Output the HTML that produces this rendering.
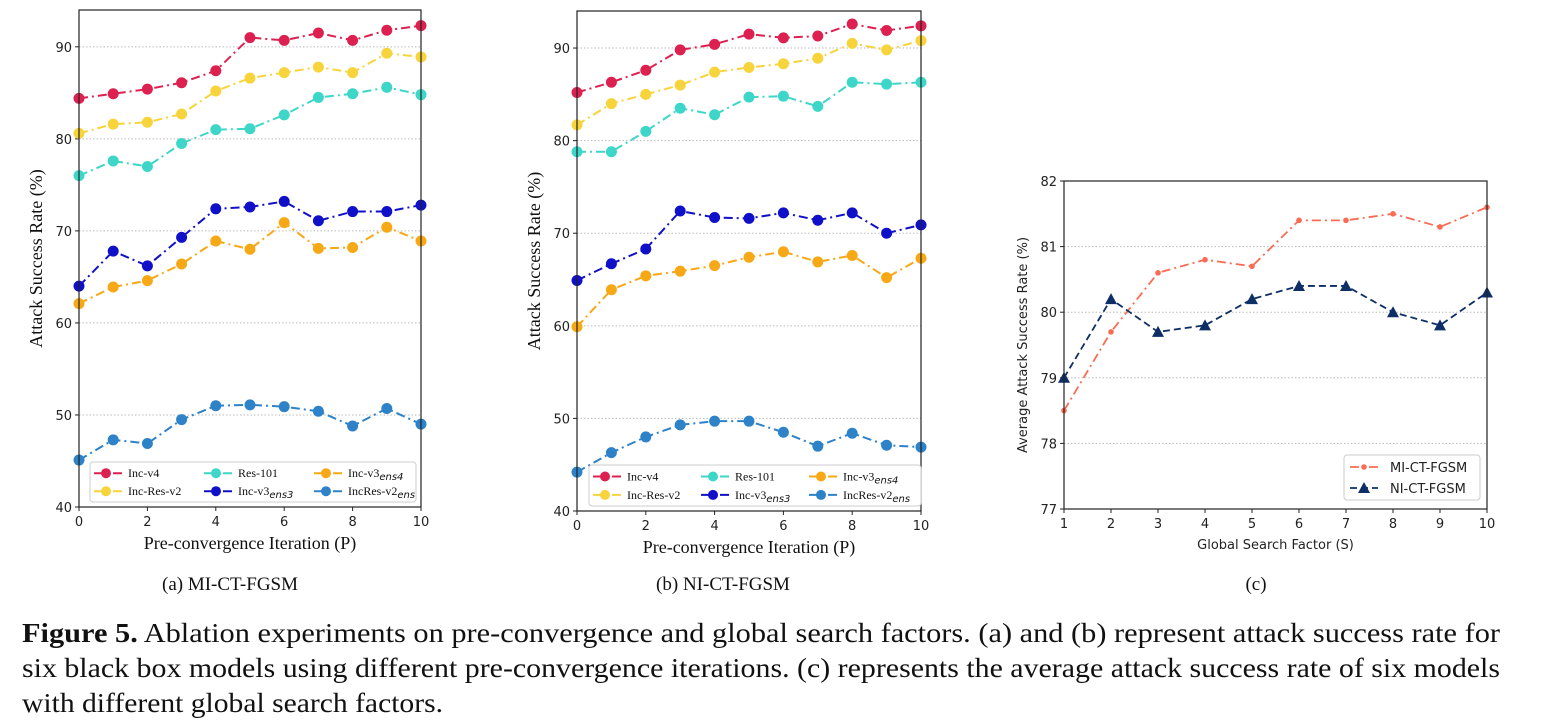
<!DOCTYPE html>
<html><head><meta charset="utf-8">
<style>
html,body{margin:0;padding:0;background:#fff;}
svg{display:block;}
.tk{font-family:"DejaVu Sans","Liberation Sans",sans-serif;font-size:13px;fill:#222;}
.sf{font-family:"Liberation Serif",serif;fill:#111;}
</style></head>
<body>
<svg id="fig" width="1545" height="724" viewBox="0 0 1545 724" xmlns="http://www.w3.org/2000/svg">
<text class="sf" x="230" y="590" font-size="19" text-anchor="middle">(a) MI-CT-FGSM</text>
<text class="sf" x="723" y="590" font-size="19" text-anchor="middle">(b) NI-CT-FGSM</text>
<text class="sf" x="1256" y="590" font-size="19" text-anchor="middle">(c)</text>
<text class="sf" x="22" y="642" font-size="27" textLength="1478" lengthAdjust="spacingAndGlyphs"><tspan font-weight="bold">Figure 5.</tspan> Ablation experiments on pre-convergence and global search factors. (a) and (b) represent attack success rate for</text>
<text class="sf" x="22" y="677" font-size="27" textLength="1478" lengthAdjust="spacingAndGlyphs">six black box models using different pre-convergence iterations. (c) represents the average attack success rate of six models</text>
<text class="sf" x="22" y="712" font-size="27" textLength="421" lengthAdjust="spacingAndGlyphs">with different global search factors.</text>
</svg>
<script>
const iters = [0,1,2,3,4,5,6,7,8,9,10];
const seriesNames = ["Inc-v4","Inc-Res-v2","Res-101","Inc-v3ens3","Inc-v3ens4","IncRes-v2ens"];
const aIncV4 = [84.4,84.9,85.4,86.1,87.4,91.0,90.7,91.5,90.7,91.8,92.3];
const aIncResV2 = [80.6,81.6,81.8,82.7,85.2,86.6,87.2,87.8,87.2,89.3,88.9];
const aRes101 = [76.0,77.6,77.0,79.5,81.0,81.1,82.6,84.5,84.9,85.6,84.8];
const aEns3 = [64.0,67.8,66.2,69.3,72.4,72.6,73.2,71.1,72.1,72.1,72.8];
const aEns4 = [62.1,63.9,64.6,66.4,68.9,68.0,70.9,68.1,68.2,70.4,68.9];
const aIncResEns = [45.1,47.3,46.9,49.5,51.0,51.1,50.9,50.4,48.8,50.7,49.0];
const bIncV4 = [85.2,86.3,87.6,89.8,90.4,91.5,91.1,91.3,92.6,91.9,92.4];
const bIncResV2 = [81.7,84.0,85.0,86.0,87.4,87.9,88.3,88.9,90.5,89.8,90.8];
const bRes101 = [78.8,78.8,81.0,83.5,82.8,84.7,84.8,83.7,86.3,86.1,86.3];
const bEns3 = [64.9,66.7,68.3,72.4,71.7,71.6,72.2,71.4,72.2,70.0,70.9];
const bEns4 = [59.9,63.9,65.4,65.9,66.5,67.4,68.0,66.9,67.6,65.2,67.3];
const bIncResEns = [44.2,46.3,48.0,49.3,49.7,49.7,48.5,47.0,48.4,47.1,46.9];
const abTicksY = [40,50,60,70,80,90];
const abTicksX = [0,2,4,6,8,10];
const sFactors = [1,2,3,4,5,6,7,8,9,10];
const miValues = [78.5,79.7,80.6,80.8,80.7,81.4,81.4,81.5,81.3,81.6];
const niValues = [79.0,80.2,79.7,79.8,80.2,80.4,80.4,80.0,79.8,80.3];
const cTicksY = [77,78,79,80,81,82];

const NS="http://www.w3.org/2000/svg";
const svg=document.getElementById('fig');
function mk(tag,attrs,parent){const e=document.createElementNS(NS,tag);for(const k in attrs)e.setAttribute(k,attrs[k]);(parent||svg).appendChild(e);return e;}
const colors=["#dc2050","#f7d43c","#3dd6c8","#1010c8","#f7a816","#2e82c8"];

function panel(id,L,R,T,B,ymin,ymax,data,leg){
  const g=mk('g',{});
  
  
  const x=v=>L+(v-0)/10*(R-L), y=v=>B-(v-ymin)/(ymax-ymin)*(B-T);
  abTicksY.forEach(t=>{
    if(t>ymin){const gl=mk('line',{x1:L,x2:R,y1:y(t),y2:y(t),stroke:'#bbb','stroke-width':1,'stroke-dasharray':'1.5,2'},g);
    }
    mk('line',{x1:L-4,x2:L,y1:y(t),y2:y(t),stroke:'#222'},g);
    const tx=mk('text',{x:L-7,y:y(t)+5,'text-anchor':'end',class:'tk'},g);tx.textContent=t;
    
  });
  abTicksX.forEach(t=>{
    mk('line',{x1:x(t),x2:x(t),y1:B,y2:B+4,stroke:'#222'},g);
    const tx=mk('text',{x:x(t),y:B+19,'text-anchor':'middle',class:'tk'},g);tx.textContent=t;
    
  });
  data.forEach((d,i)=>{
    const pl=mk('polyline',{points:iters.map((v,j)=>x(v)+','+y(d[j])).join(' '),fill:'none',stroke:colors[i],'stroke-width':2,'stroke-dasharray':'9,4,2,4'},g);
    
    
    iters.forEach((v,j)=>{const c=mk('circle',{cx:x(v),cy:y(d[j]),r:5.5,fill:colors[i]},g);
      });
  });
  const fr=mk('rect',{x:L,y:T,width:R-L,height:B-T,fill:'none',stroke:'#222','stroke-width':1.2},g);
  
  const yl=mk('text',{class:'sf','font-size':18,'text-anchor':'middle',transform:`translate(${L-37},${(T+B)/2}) rotate(-90)`},g);
  yl.textContent='Attack Success Rate (%)';
  
  const xl=mk('text',{class:'sf','font-size':18,'text-anchor':'middle',x:(L+R)/2,y:B+42},g);
  xl.textContent='Pre-convergence Iteration (P)';
  
  const lg=mk('g',{},g);
  
  mk('rect',{x:leg.x,y:leg.y,width:leg.w,height:leg.h,fill:'#fff',stroke:'#ccc',rx:3},lg);
  const order=[0,2,4,1,3,5];
  order.forEach((si,k)=>{
    const col=k%3,row=Math.floor(k/3);
    const mx=leg.x+16+col*leg.cw, my=leg.y+leg.h*0.28+row*leg.h*0.45;
    mk('line',{x1:mx-12,x2:mx+16,y1:my,y2:my,stroke:colors[si],'stroke-width':2,'stroke-dasharray':'9,4,2,4'},lg);
    mk('circle',{cx:mx,cy:my,r:5,fill:colors[si]},lg);
    const t=mk('text',{x:mx+22,y:my+4,class:'sf','font-size':12},lg);
    const n=seriesNames[si];
    if(n.endsWith('ens3')||n.endsWith('ens4')||n.endsWith('ens')){
      const m=n.match(/^(.*?)(ens\d?)$/);
      t.appendChild(document.createTextNode(m[1]));
      const ts=mk('tspan',{'font-style':'italic','font-size':10,dy:3,'font-family':'DejaVu Sans,sans-serif'},t);ts.textContent=m[2];
    } else t.textContent=n;
    
  });
}
panel('chart-a-mi-ct-fgsm',79,421,10,507,40,94.0,[aIncV4,aIncResV2,aRes101,aEns3,aEns4,aIncResEns],{x:90,y:462,w:326,h:40,cw:110});
panel('chart-b-ni-ct-fgsm',577,921,11,511,40,94.0,[bIncV4,bIncResV2,bRes101,bEns3,bEns4,bIncResEns],{x:589,y:465,w:332,h:41,cw:108});

(function(){
  const L=1064,R=1487,T=181,B=509,ymin=77,ymax=82;
  const g=mk('g',{});
  
  const x=v=>L+(v-1)/9*(R-L), y=v=>B-(v-ymin)/(ymax-ymin)*(B-T);
  cTicksY.forEach(t=>{
    if(t>ymin&&t<ymax){const gl=mk('line',{x1:L,x2:R,y1:y(t),y2:y(t),stroke:'#bbb','stroke-width':1,'stroke-dasharray':'1.5,2'},g);
      }
    mk('line',{x1:L-4,x2:L,y1:y(t),y2:y(t),stroke:'#222'},g);
    const tx=mk('text',{x:L-7,y:y(t)+5,'text-anchor':'end',class:'tk'},g);tx.textContent=t;
    
  });
  sFactors.forEach(t=>{
    mk('line',{x1:x(t),x2:x(t),y1:B,y2:B+4,stroke:'#222'},g);
    const tx=mk('text',{x:x(t),y:B+19,'text-anchor':'middle',class:'tk'},g);tx.textContent=t;
    
  });
  const mi=mk('polyline',{points:sFactors.map((v,j)=>x(v)+','+y(miValues[j])).join(' '),fill:'none',stroke:'#f96b52','stroke-width':1.8,'stroke-dasharray':'9,4,2,4'},g);
  
  sFactors.forEach((v,j)=>{const c=mk('circle',{cx:x(v),cy:y(miValues[j]),r:2.8,fill:'#f96b52'},g);
    });
  const ni=mk('polyline',{points:sFactors.map((v,j)=>x(v)+','+y(niValues[j])).join(' '),fill:'none',stroke:'#0e2f66','stroke-width':1.8,'stroke-dasharray':'7,4'},g);
  
  const tri=(cx,cy)=>`${cx},${cy-6} ${cx-6},${cy+5} ${cx+6},${cy+5}`;
  sFactors.forEach((v,j)=>{const p=mk('polygon',{points:tri(x(v),y(niValues[j])),fill:'#0e2f66'},g);
    });
  const fr=mk('rect',{x:L,y:T,width:R-L,height:B-T,fill:'none',stroke:'#222','stroke-width':1.2},g);
  
  const yl=mk('text',{class:'tk','font-size':13,'text-anchor':'middle',transform:`translate(${L-37},${(T+B)/2}) rotate(-90)`},g);
  yl.textContent='Average Attack Success Rate (%)';
  
  const xl=mk('text',{class:'tk','font-size':13,'text-anchor':'middle',x:(L+R)/2,y:B+40},g);
  xl.textContent='Global Search Factor (S)';
  
  const lg=mk('g',{},g);
  
  mk('rect',{x:1344,y:455,width:136,height:45,fill:'#fff',stroke:'#ccc',rx:3},lg);
  mk('line',{x1:1350,x2:1378,y1:467,y2:467,stroke:'#f96b52','stroke-width':1.8,'stroke-dasharray':'9,4,2,4'},lg);
  mk('circle',{cx:1364,cy:467,r:2.8,fill:'#f96b52'},lg);
  const t1=mk('text',{x:1390,y:472,class:'tk'},lg);t1.textContent='MI-CT-FGSM';
  
  mk('line',{x1:1350,x2:1378,y1:488,y2:488,stroke:'#0e2f66','stroke-width':1.8,'stroke-dasharray':'7,4'},lg);
  mk('polygon',{points:tri(1364,488),fill:'#0e2f66'},lg);
  const t2=mk('text',{x:1390,y:493,class:'tk'},lg);t2.textContent='NI-CT-FGSM';
  
})();
</script>
</body></html>
